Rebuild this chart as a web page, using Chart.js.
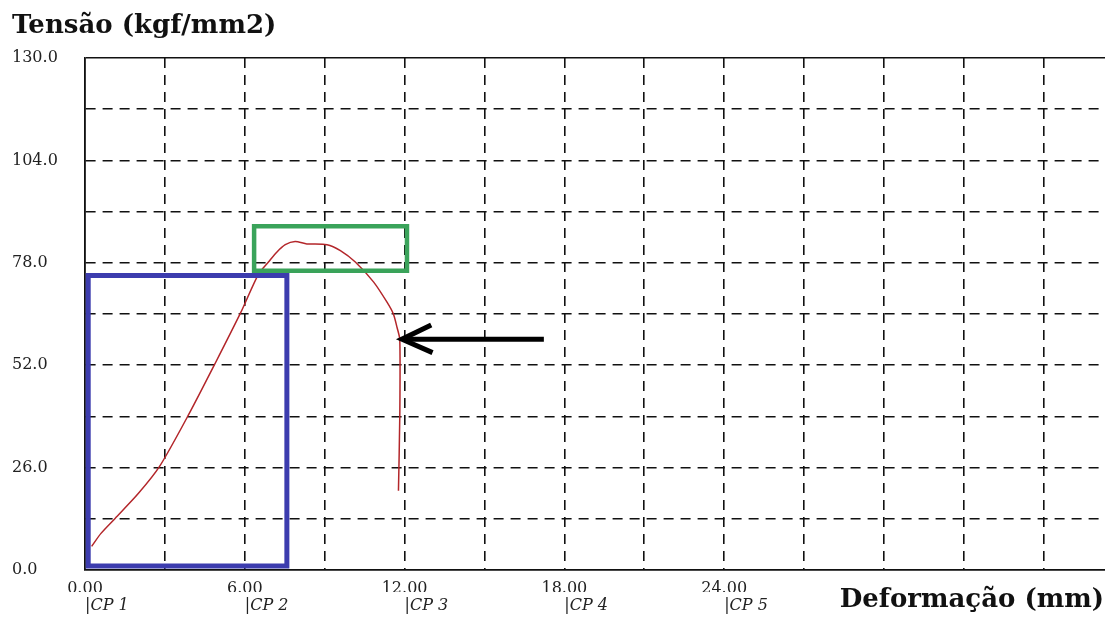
<!DOCTYPE html>
<html>
<head>
<meta charset="utf-8">
<script src="https://cdn.jsdelivr.net/npm/chart.js@4.4.1/dist/chart.umd.min.js"></script>
<style>
  body { margin: 0; background: #fff; }
  #wrap { width: 1105px; height: 621px; }
</style>
</head>
<body>
<div id="wrap"><canvas id="mycanvas"></canvas></div>
<script>
// tensile test curve
var deformacao = [0.25, 0.6, 1.13, 2.0, 2.8, 3.88, 4.89, 5.85, 6.52, 6.89, 7.2, 7.52, 7.89, 8.33, 9.09, 9.59, 10.15, 10.84, 11.34, 11.58, 11.72, 11.82, 11.82, 11.77];
var tensao = [6.0, 9.3, 13.1, 19.4, 26.3, 39.3, 52.5, 65.4, 75.2, 78.2, 80.7, 82.6, 83.4, 82.8, 82.6, 81.1, 78.2, 73.1, 68.0, 65.0, 61.5, 58.5, 39.1, 20.1];

var yTicks = [0, 26, 52, 78, 104, 130];
var xTicks = [0, 6, 12, 18, 24];
var cpLabels = ['|CP 1', '|CP 2', '|CP 3', '|CP 4', '|CP 5'];

// annotation boxes and arrow (data units)
var blueBoxX = [0.12, 7.58];
var blueBoxY = [1, 74.8];
var greenBoxX = [6.35, 12.09];
var greenBoxY = [76.0, 87.3];
var arrowX = [17.23, 11.95];
var arrowY = [58.6, 58.6];
var arrowHeadX = [13.0, 11.9, 13.05];
var arrowHeadY = [62.2, 58.6, 55.2];

function pts(xs, ys) {
	var out = [];
	for (var i in xs) {
		out.push({x: xs[i], y: ys[i]});
	}
	return out;
}
function box(bx, by) {
	return [
		{x: bx[0], y: by[0]}, {x: bx[1], y: by[0]},
		{x: bx[1], y: by[1]}, {x: bx[0], y: by[1]},
		{x: bx[0], y: by[0]}
	];
}

var lineStyle = function(color, width, cap) {
	return {
		showLine: true,
		borderColor: color,
		backgroundColor: color,
		borderWidth: width,
		pointRadius: 0,
		borderJoinStyle: 'miter',
		borderCapStyle: cap || 'square',
		fill: false
	};
};

var datasets = [
	Object.assign({data: pts(arrowHeadX, arrowHeadY)}, lineStyle('#000', 5, 'butt')),
	Object.assign({data: pts(arrowX, arrowY)}, lineStyle('#000', 5, 'butt')),
	Object.assign({data: box(greenBoxX, greenBoxY)}, lineStyle('#3aa35a', 4.5)),
	Object.assign({data: box(blueBoxX, blueBoxY)}, lineStyle('#3c3cae', 5)),
	Object.assign({data: pts(deformacao, tensao), tension: 0.25}, lineStyle('#b3262a', 1.5, 'butt'), {borderJoinStyle: 'round'})
];

var dash = function(solidAt) {
	return function(c) {
		if (!c.tick) return [];
		return c.tick.value === solidAt || c.tick.value === 0 ? [] : [10, 7];
	};
};

var textPlugin = {
	id: 'texts',
	afterDraw: function(chart) {
		var ctx = chart.ctx;
		ctx.save();
		ctx.fillStyle = '#111';
		ctx.textBaseline = 'alphabetic';
		ctx.font = 'bold 26px "DejaVu Serif"';
		ctx.textAlign = 'left';
		ctx.fillText('Tensão (kgf/mm2)', 12, 33);
		ctx.font = 'bold 26px "DejaVu Serif"';
		ctx.textAlign = 'right';
		ctx.fillText('Deformação (mm)', 1104, 607);
		ctx.restore();
	}
};

var ctx = document.getElementById('mycanvas');
var chart = new Chart(ctx, {
	type: 'scatter',
	data: {datasets: datasets},
	plugins: [textPlugin],
	options: {
		responsive: true,
		maintainAspectRatio: false,
		animation: false,
		layout: {padding: {top: 58, left: 12, right: 0, bottom: 0}},
		plugins: {legend: {display: false}, tooltip: {enabled: false}},
		scales: {
			x: {
				type: 'linear',
				position: 'bottom',
				min: 0,
				max: 38.3,
				afterFit: function(s) { s.height = 22; },
				grid: {color: '#111', lineWidth: 1.6, drawTicks: false},
				border: {display: true, color: '#111', width: 1.6, dash: dash(-1)},
				ticks: {
					stepSize: 3,
					includeBounds: false,
					autoSkip: false,
					maxRotation: 0,
					padding: 9,
					color: '#222',
					font: {family: 'DejaVu Serif', size: 16},
					callback: function(v) {
						return xTicks.indexOf(v) >= 0 ? v.toFixed(2) : '';
					}
				}
			},
			x2: {
				type: 'linear',
				position: 'bottom',
				min: 0,
				max: 38.3,
				afterFit: function(s) { s.height = 29; },
				grid: {display: false, drawTicks: false},
				border: {display: false},
				ticks: {
					stepSize: 6,
					includeBounds: false,
					autoSkip: false,
					maxRotation: 0,
					align: 'start',
					padding: 4,
					color: '#222',
					font: {family: 'DejaVu Serif', size: 16, style: 'italic'},
					callback: function(v) {
						var i = xTicks.indexOf(v);
						return i >= 0 ? cpLabels[i] : '';
					}
				}
			},
			y: {
				min: 0,
				max: 130,
				afterFit: function(s) { s.width = 73; },
				grid: {color: '#111', lineWidth: 1.6, drawTicks: false},
				border: {display: true, color: '#111', width: 1.6, dash: dash(130)},
				ticks: {
					stepSize: 13,
					autoSkip: false,
					crossAlign: 'far',
					color: '#222',
					font: {family: 'DejaVu Serif', size: 16},
					callback: function(v) {
						return yTicks.indexOf(v) >= 0 ? v.toFixed(1) : '';
					}
				}
			}
		}
	}
});
</script>
</body>
</html>
